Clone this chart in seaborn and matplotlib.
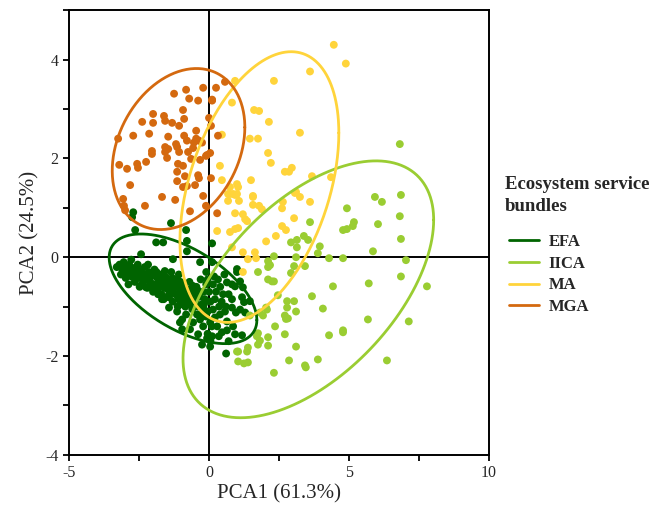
import numpy as np
import pandas as pd
import matplotlib
matplotlib.use("Agg")
import matplotlib.pyplot as plt
from matplotlib.lines import Line2D
from matplotlib.ticker import MultipleLocator
import seaborn as sns

# PCA scores (PCA1, PCA2)
efa_points = [
    (-2.71, 0.91), (-2.75, 0.81), (-2.64, 0.55), (-1.36, 0.69), (-0.82, 0.55),
    (-1.89, 0.3), (-1.64, 0.3), (-0.79, 0.33), (-0.79, 0.12), (0.11, 0.28),
    (-2.43, 0.06), (-1.29, -0.04), (-0.32, -0.1), (0.11, -0.1),
    (0.18, -0.39), (0.32, -0.45), (0.14, -0.55), (1.0, -0.24), (1.0, -0.3),
    (0.64, -0.51), (0.82, -0.55), (0.93, -0.59), (1.11, -0.49), (1.21, -0.61),
    (0.5, -0.75), (0.82, -0.85), (1.18, -0.81), (1.25, -0.91), (1.46, -0.89),
    (0.21, -0.85), (0.36, -1.0), (0.14, -1.06), (0.57, -1.1), (0.39, -1.16),
    (0.21, -1.22), (0.82, -1.02), (0.96, -1.12), (1.11, -1.06), (1.29, -1.12),
    (0.64, -1.3), (0.86, -1.4), (0.64, -1.48), (0.93, -1.56), (1.18, -1.58),
    (0.46, -1.52), (0.29, -1.4), (-0.21, -1.02), (-0.11, -1.2), (0.04, -1.32),
    (-0.21, -1.4), (-0.32, -1.26), (-0.43, -1.16), (-0.57, -1.32),
    (-0.82, -1.16), (-1.14, -1.1), (-1.43, -1.02), (-0.96, -1.26), (-0.68, -1.46),
    (-0.39, -1.56), (-0.25, -1.77), (-0.07, -1.64), (0.11, -1.6), (0.04, -1.81),
    (-0.96, -1.46), (-1.04, -1.32), (0.61, -1.95), (-2.25, -0.61), (-1.82, -0.71),
    (-1.68, -0.85), (-1.43, -0.81),
    (-3.3, -0.2), (-3.2, -0.15), (-3.1, -0.25), (-3.05, -0.1), (-3.0, -0.3),
    (-2.95, -0.2), (-2.9, -0.35), (-2.85, -0.15), (-2.8, -0.28), (-2.75, -0.4),
    (-2.7, -0.22), (-2.65, -0.5), (-2.6, -0.3), (-2.55, -0.15), (-2.5, -0.42),
    (-2.45, -0.28), (-2.4, -0.55), (-2.35, -0.35), (-2.3, -0.2), (-2.25, -0.45),
    (-2.2, -0.62), (-2.15, -0.3), (-2.1, -0.5), (-2.05, -0.38), (-2.0, -0.7),
    (-1.95, -0.25), (-1.9, -0.55), (-1.85, -0.42), (-1.8, -0.6), (-1.75, -0.35),
    (-1.7, -0.75), (-1.65, -0.5), (-1.6, -0.62), (-1.55, -0.4), (-1.5, -0.8),
    (-1.45, -0.55), (-1.4, -0.68), (-1.35, -0.3), (-1.3, -0.9), (-1.25, -0.6),
    (-1.2, -0.75), (-1.15, -0.45), (-1.1, -0.85), (-1.05, -0.65), (-1.0, -0.95),
    (-0.95, -0.55), (-0.9, -0.75), (-0.85, -1.0), (-0.8, -0.65), (-0.75, -0.88),
    (-0.7, -0.5), (-0.65, -0.78), (-0.6, -1.05), (-0.55, -0.7), (-0.5, -0.9),
    (-0.45, -0.6), (-0.4, -1.0), (-0.35, -0.8), (-0.3, -0.45), (-0.25, -0.95),
    (-0.2, -0.7), (-0.15, -0.85), (-0.1, -0.55), (-0.05, -1.1),
    (-3.15, -0.35), (-2.98, -0.42), (-2.78, -0.05), (-2.62, -0.38), (-2.48, -0.6),
    (-2.32, -0.48), (-2.18, -0.15), (-2.02, -0.55), (-1.88, -0.3), (-1.72, -0.48),
    (-1.58, -0.28), (-1.48, -0.65), (-1.38, -0.52), (-1.28, -0.72), (-1.18, -0.55),
    (-1.08, -0.35), (-0.98, -0.78), (-0.88, -0.6), (-0.78, -0.8), (-0.68, -0.95),
    (-0.58, -0.58), (-0.48, -0.75), (-0.38, -0.68), (-0.28, -1.15), (-0.18, -0.95),
    (-1.95, -0.62), (-1.62, -0.85), (-1.32, -0.42), (-1.02, -0.5), (-0.72, -0.68),
    (-2.22, -0.35), (-2.58, -0.22), (-2.88, -0.55), (-1.12, -1.0), (-0.92, -0.9),
    (-1.52, -0.45), (-1.82, -0.75),
    (-0.1, -0.3), (0.0, -0.7), (0.05, -0.9), (-0.05, -0.45), (0.25, -0.7),
    (0.4, -0.6), (0.45, -0.9), (0.7, -0.75), (0.55, -0.35), (0.6, -1.0),
    (0.1, -1.4), (-0.05, -1.55), (0.35, -1.6), (0.7, -1.7), (0.05, -1.7),
]

iica_points = [
    (6.82, 2.29), (5.93, 1.22), (6.18, 1.12), (6.86, 1.26), (4.93, 0.99),
    (6.82, 0.83), (5.18, 0.71), (5.14, 0.63), (4.93, 0.57), (4.79, 0.55),
    (6.04, 0.67), (6.86, 0.37), (5.86, 0.12), (4.79, -0.02), (7.04, -0.06),
    (6.86, -0.39), (5.71, -0.53), (7.79, -0.59), (5.68, -1.26), (7.14, -1.3),
    (4.79, -1.48), (6.36, -2.09), (3.61, 0.71),
    (2.93, 0.3), (3.14, 0.35), (3.39, 0.43), (3.54, 0.35), (3.96, 0.22),
    (3.14, 0.2), (3.89, 0.08), (4.29, -0.02), (2.32, 0.02), (3.11, 0.0),
    (2.11, -0.08), (2.18, -0.16), (2.11, -0.2), (1.75, -0.3), (3.04, -0.18),
    (3.43, -0.18), (2.93, -0.32), (2.25, -0.49), (2.32, -0.49), (4.43, -0.59),
    (3.68, -0.79), (2.46, -0.77), (2.79, -0.89), (3.04, -0.89), (2.79, -1.02),
    (3.11, -1.1), (4.07, -1.04), (2.04, -1.02), (1.93, -1.18), (1.82, -1.12),
    (2.71, -1.18), (2.82, -1.24), (1.46, -1.18), (2.36, -1.4), (2.71, -1.56),
    (4.29, -1.58), (1.75, -1.54), (1.82, -1.69), (1.75, -1.77), (2.11, -1.62),
    (2.11, -1.79), (1.39, -1.83), (3.11, -1.81), (1.04, -1.91), (1.04, -2.11),
    (1.25, -2.15), (1.39, -2.13), (2.86, -2.09), (3.43, -2.19), (3.46, -2.23),
    (3.89, -2.07), (2.32, -2.34), (2.11, -0.45), (2.07, -1.06), (1.71, -1.6),
    (1.36, -1.91), (1.0, -1.91), (4.79, -1.52), (2.75, -1.25),
]

ma_points = [
    (4.46, 4.3), (4.89, 3.92), (3.61, 3.76), (2.32, 3.57), (0.93, 3.57),
    (0.82, 3.13), (1.61, 2.98), (1.79, 2.96), (2.14, 2.74), (3.25, 2.52),
    (1.46, 2.4), (1.75, 2.4), (0.46, 2.48), (2.11, 2.11), (2.21, 1.91),
    (2.71, 1.73), (2.96, 1.81), (2.86, 1.73), (3.68, 1.64), (4.36, 1.62),
    (0.39, 1.85), (0.46, 1.56), (1.5, 1.56), (1.0, 1.48), (1.04, 1.42),
    (0.75, 1.42), (0.68, 1.28), (0.93, 1.26), (1.57, 1.24), (3.11, 1.32),
    (0.75, 1.28), (0.86, 1.28), (1.0, 1.28), (0.68, 1.14), (1.07, 1.14),
    (1.57, 1.22), (1.57, 1.06), (1.79, 1.04), (1.89, 0.97), (2.61, 0.99),
    (2.64, 1.12), (3.07, 1.3), (3.25, 1.22), (3.61, 1.12), (0.93, 0.89),
    (1.21, 0.87), (1.29, 0.77), (1.36, 0.73), (3.04, 0.79), (2.61, 0.63),
    (2.75, 0.55), (0.93, 0.57), (1.04, 0.59), (0.75, 0.51), (0.29, 0.53),
    (2.39, 0.43), (2.04, 0.32), (1.21, 0.1), (1.64, 0.1), (1.39, -0.04),
    (1.68, -0.02), (0.82, 0.2), (1.21, -0.3),
]

mga_points = [
    (0.57, 3.55), (0.25, 3.43), (-0.21, 3.43), (-0.82, 3.39), (-1.25, 3.31),
    (-0.71, 3.21), (-0.39, 3.17), (0.11, 3.17), (-0.93, 2.98), (-2.0, 2.9),
    (-1.61, 2.86), (-0.89, 2.8), (-2.39, 2.74), (-2.0, 2.72), (-1.57, 2.76),
    (-1.32, 2.72), (-1.07, 2.66), (0.0, 2.82), (0.07, 2.66), (-3.25, 2.4),
    (-2.71, 2.46), (-2.14, 2.5), (-1.46, 2.44), (-0.89, 2.46), (-0.46, 2.56),
    (-0.46, 2.4), (-0.36, 2.36), (-0.25, 2.32), (-0.54, 2.32), (-0.79, 2.36),
    (-1.18, 2.29), (-1.57, 2.23), (-1.46, 2.19), (-1.57, 2.13), (-1.14, 2.23),
    (-2.04, 2.15), (-2.04, 2.09), (-0.75, 2.13), (-0.57, 2.21), (-1.5, 2.01),
    (-1.07, 2.13), (-0.07, 2.07), (-0.64, 1.99), (-0.32, 1.97), (-2.25, 1.93),
    (-2.57, 1.89), (-2.54, 1.81), (-3.21, 1.87), (-2.93, 1.79), (-1.11, 1.89),
    (-0.93, 1.85), (-0.86, 1.64), (-1.14, 1.73), (-1.14, 1.54), (-0.39, 1.66),
    (-0.36, 1.6), (0.07, 1.6), (-2.82, 1.46), (-0.93, 1.42), (-0.5, 1.46),
    (-0.79, 1.44), (-3.07, 1.18), (-1.68, 1.22), (-1.21, 1.16), (-0.21, 1.24),
    (-3.04, 1.04), (-3.0, 0.95), (-2.29, 1.04), (-0.11, 1.04), (-0.68, 0.93),
    (0.29, 0.89), (0.32, 2.46), (0.11, 3.19), (0.04, 2.11), (-0.11, 2.05),
]

groups = ["EFA", "IICA", "MA", "MGA"]
colors = ["#006400", "#9ACD32", "#FFD43B", "#D4690F"]

# 95% ellipse: centre, half-extent in x and y, correlation
ell_cx = [-0.93, 3.55, 1.8, -1.09]
ell_cy = [-0.64, -0.65, 1.42, 2.19]
ell_sx = [2.64, 4.48, 2.84, 2.37]
ell_sy = [1.11, 2.6, 2.74, 1.63]
ell_rho = [-0.57, 0.54, 0.4, 0.27]

frames = []
for name, pts in zip(groups, [efa_points, iica_points, ma_points, mga_points]):
    df = pd.DataFrame(pts, columns=["PCA1", "PCA2"])
    df["bundle"] = name
    frames.append(df)
data = pd.concat(frames, ignore_index=True)

sns.set_style("ticks")
plt.rcParams["font.family"] = ["Liberation Serif", "DejaVu Serif"]
plt.rcParams["axes.unicode_minus"] = False

fig = plt.figure(figsize=(6.65, 5.11), dpi=100)
ax = fig.add_axes([0.104, 0.11, 0.631, 0.87])

sns.scatterplot(data=data, x="PCA1", y="PCA2", hue="bundle", hue_order=groups,
                palette=colors, s=32, linewidth=0, legend=False, ax=ax, zorder=3)

t = np.linspace(0, 2 * np.pi, 300)
for i in range(len(groups)):
    r = ell_rho[i]
    ex = ell_cx[i] + ell_sx[i] * np.cos(t)
    ey = ell_cy[i] + ell_sy[i] * (r * np.cos(t) - np.sqrt(1 - r ** 2) * np.sin(t))
    ax.plot(ex, ey, color=colors[i], lw=2, zorder=4)

ax.axhline(0, color="black", lw=1.4, zorder=2)
ax.axvline(0, color="black", lw=1.4, zorder=2)

ax.set_xlim(-5, 10)
ax.set_ylim(-4, 5)
ax.set_xticks([-5, 0, 5, 10])
ax.set_yticks([-4, -2, 0, 2, 4])
ax.xaxis.set_minor_locator(MultipleLocator(2.5))
ax.yaxis.set_minor_locator(MultipleLocator(1))
ax.tick_params(which="both", direction="out", length=4, width=1.3, labelsize=11.5, color="black")
for sp in ax.spines.values():
    sp.set_visible(True)
    sp.set_linewidth(1.4)
    sp.set_color("black")

ax.set_xlabel("PCA1 (61.3%)", fontsize=15, labelpad=2)
ax.set_ylabel("PCA2 (24.5%)", fontsize=15, labelpad=4)

# legend title as its own text, entries below it
fig.text(0.759, 0.656, "Ecosystem service\nbundles", ha="left", va="top",
         fontsize=13.5, fontweight="bold", linespacing=1.4)
handles = [Line2D([0], [0], color=c, lw=2) for c in colors]
fig.legend(handles, groups, loc="upper left", bbox_to_anchor=(0.765, 0.542),
           frameon=False, borderpad=0, borderaxespad=0,
           prop={"weight": "bold", "size": 12}, handlelength=1.8,
           handletextpad=0.6, labelspacing=0.34)

fig.savefig("out.png", dpi=100)
